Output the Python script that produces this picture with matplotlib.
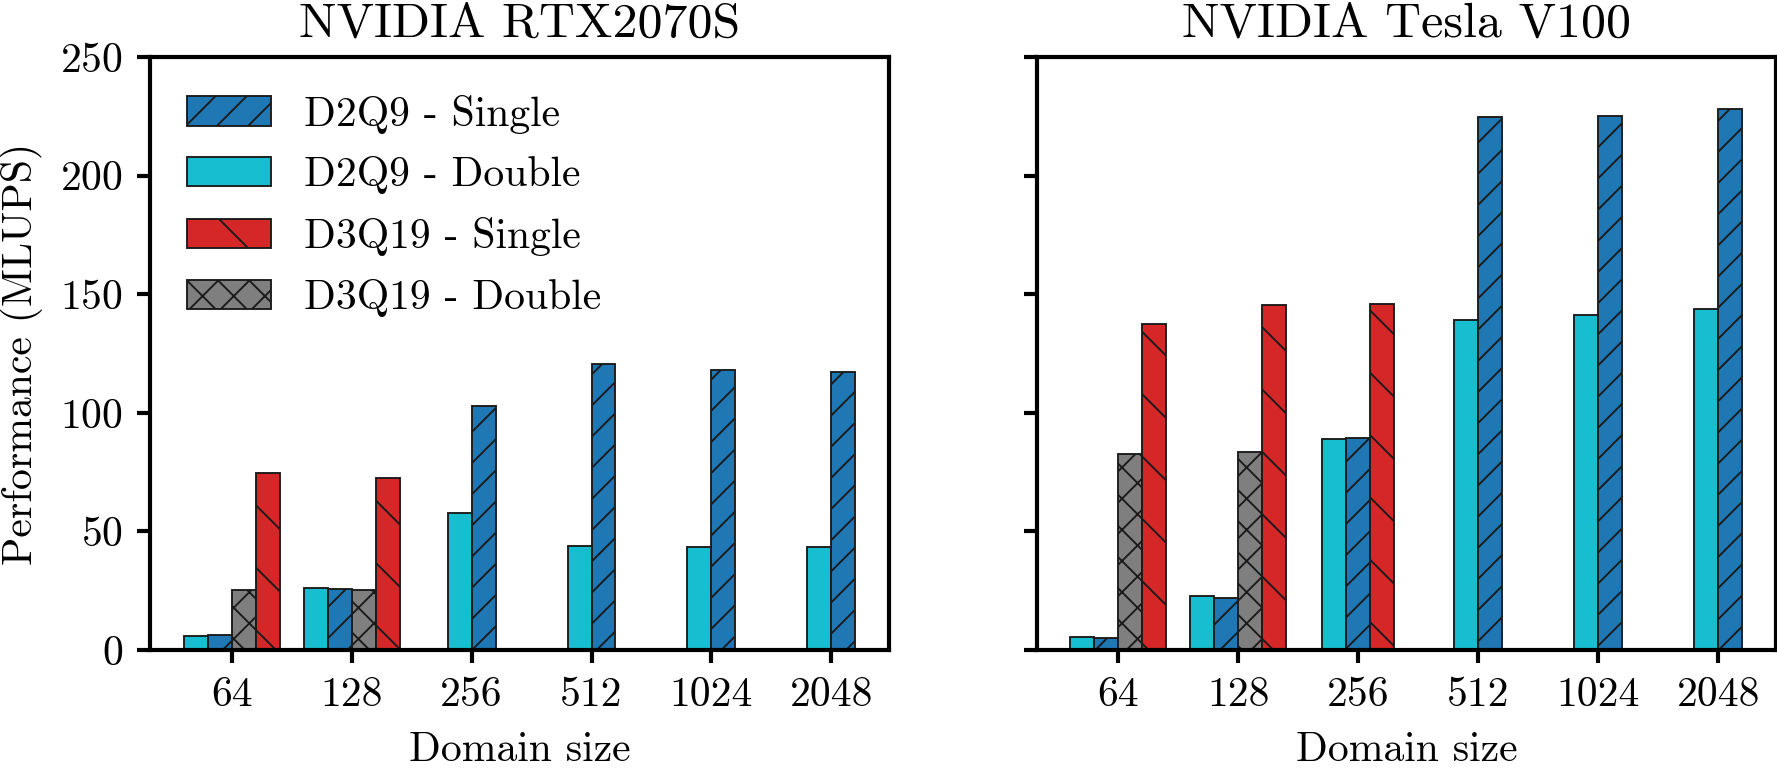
import numpy as np
import matplotlib
matplotlib.use("Agg")
import matplotlib.pyplot as plt

# everything in points is scaled by S so that the hatch spacing comes out right
S = 1.6
DPI = 300 / S

plt.rcParams['font.family'] = 'serif'
plt.rcParams['font.serif'] = ['cmr10']
plt.rcParams['axes.formatter.use_mathtext'] = True
plt.rcParams['font.size'] = 10 * S
plt.rcParams['axes.linewidth'] = 1.0 * S
plt.rcParams['xtick.major.width'] = 1.0 * S
plt.rcParams['ytick.major.width'] = 1.0 * S
plt.rcParams['xtick.major.size'] = 3.0 * S
plt.rcParams['ytick.major.size'] = 3.0 * S
plt.rcParams['xtick.major.pad'] = 3.5 * S
plt.rcParams['ytick.major.pad'] = 3.5 * S
plt.rcParams['axes.labelpad'] = 4.0 * S
plt.rcParams['axes.titlepad'] = 5.0 * S
plt.rcParams['hatch.linewidth'] = 0.45 * S

nan = np.nan
sizes = ['64', '128', '256', '512', '1024', '2048']
titles = ['NVIDIA RTX2070S', 'NVIDIA Tesla V100']

# RTX2070S
rtx_d2q9_single = [6.5, 25.9, 102.8, 120.7, 118.2, 117.4]
rtx_d2q9_double = [6.0, 26.1, 57.8, 43.8, 43.6, 43.6]
rtx_d3q19_single = [74.6, 72.7, nan, nan, nan, nan]
rtx_d3q19_double = [25.3, 25.3, nan, nan, nan, nan]

# Tesla V100
v100_d2q9_single = [5.1, 22.0, 89.5, 224.8, 225.3, 228.1]
v100_d2q9_double = [5.6, 22.6, 89.0, 139.3, 141.2, 143.9]
v100_d3q19_single = [137.4, 145.4, 146.0, nan, nan, nan]
v100_d3q19_double = [82.6, 83.3, nan, nan, nan, nan]

# drawing order inside a group (left to right)
series = ['D2Q9 - Double', 'D2Q9 - Single', 'D3Q19 - Double', 'D3Q19 - Single']
colors = {'D2Q9 - Single': '#1f77b4', 'D2Q9 - Double': '#17becf',
          'D3Q19 - Single': '#d62728', 'D3Q19 - Double': '#7f7f7f'}
hatches = {'D2Q9 - Single': '//', 'D2Q9 - Double': '',
           'D3Q19 - Single': '\\', 'D3Q19 - Double': 'xx'}

data = [
    {'D2Q9 - Single': rtx_d2q9_single, 'D2Q9 - Double': rtx_d2q9_double,
     'D3Q19 - Single': rtx_d3q19_single, 'D3Q19 - Double': rtx_d3q19_double},
    {'D2Q9 - Single': v100_d2q9_single, 'D2Q9 - Double': v100_d2q9_double,
     'D3Q19 - Single': v100_d3q19_single, 'D3Q19 - Double': v100_d3q19_double},
]

w = 0.2
fig, axes = plt.subplots(1, 2, figsize=(1777 / DPI, 771 / DPI), dpi=DPI, sharey=True)
fig.subplots_adjust(left=0.0844, right=0.9994, top=0.926, bottom=0.157, wspace=0.2)

for ax, d, title in zip(axes, data, titles):
    for i in range(len(sizes)):
        # bars that exist for this size are centred on the tick
        present = [s for s in series if not np.isnan(d[s][i])]
        n = len(present)
        for k, s in enumerate(present):
            off = (k - (n - 1) / 2) * w
            ax.bar(i + off, d[s][i], w, color=colors[s], hatch=hatches[s],
                   edgecolor='#1a1a1a', linewidth=0.45 * S)
    ax.set_xticks(range(len(sizes)))
    ax.set_xticklabels(sizes)
    ax.set_xlabel('Domain size')
    ax.set_title(title)
    ax.set_ylim(0, 250)
    ax.set_yticks([0, 50, 100, 150, 200, 250])
    ax.tick_params(direction='out')

axes[0].set_ylabel('Performance (MLUPS)')
order = ['D2Q9 - Single', 'D2Q9 - Double', 'D3Q19 - Single', 'D3Q19 - Double']
leg_handles = [plt.Rectangle((0, 0), 1, 1, facecolor=colors[s], hatch=hatches[s],
                             edgecolor='#1a1a1a', linewidth=0.45 * S) for s in order]
axes[0].legend(leg_handles, order, loc='upper left', frameon=False, labelspacing=0.55)

fig.savefig('out.png', dpi=DPI)
